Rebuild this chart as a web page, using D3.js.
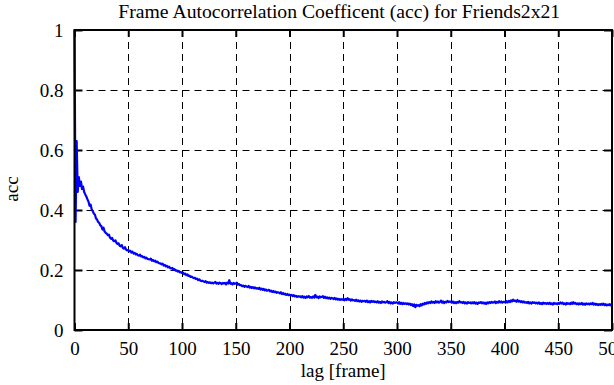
<!DOCTYPE html>
<meta charset="utf-8">
<title>acc</title>
<body>
<script src="https://cdn.jsdelivr.net/npm/d3@7"></script>
<style>
html, body {
    margin: 0;
    background: #fff;
}
svg {
    display: block;
}
svg text {
    font-family: "Liberation Serif", "Times New Roman", "DejaVu Serif", serif;
    font-size: 19px;
    fill: #000;
}
</style>
<script>
var width = 614,
    height = 385;

var margin = {top: 30, right: 2, bottom: 55, left: 74.5};

var xDomain = [0, 500],
    yDomain = [0, 1];

var xTicks = [0, 50, 100, 150, 200, 250, 300, 350, 400, 450, 500],
    yTicks = [0, 0.2, 0.4, 0.6, 0.8, 1];

// acc at lag 0..500, one value per frame
var acc = [
    1.0, 0.36, 0.63, 0.46, 0.51, 0.48, 0.495, 0.47, 0.478, 0.46,
    0.452, 0.445, 0.436, 0.428, 0.414, 0.418, 0.402, 0.396, 0.388, 0.384,
    0.372, 0.368, 0.36, 0.357, 0.349, 0.346, 0.335, 0.341, 0.328, 0.324,
    0.321, 0.316, 0.318, 0.308, 0.304, 0.307, 0.298, 0.296, 0.299, 0.291,
    0.287, 0.289, 0.281, 0.279, 0.283, 0.274, 0.271, 0.276, 0.268, 0.265,
    0.267, 0.262, 0.264, 0.258, 0.261, 0.255, 0.257, 0.252, 0.254, 0.249,
    0.248, 0.251, 0.245, 0.246, 0.242, 0.244, 0.239, 0.241, 0.237, 0.236,
    0.235, 0.238, 0.231, 0.233, 0.229, 0.231, 0.226, 0.228, 0.224, 0.222,
    0.222, 0.219, 0.221, 0.215, 0.217, 0.212, 0.214, 0.209, 0.211, 0.206,
    0.205, 0.207, 0.201, 0.203, 0.198, 0.199, 0.195, 0.197, 0.192, 0.193,
    0.19, 0.191, 0.186, 0.188, 0.183, 0.185, 0.18, 0.181, 0.177, 0.178,
    0.175, 0.173, 0.174, 0.17, 0.171, 0.166, 0.169, 0.165, 0.163, 0.164,
    0.162, 0.16, 0.163, 0.158, 0.16, 0.157, 0.159, 0.156, 0.158, 0.155,
    0.158, 0.16, 0.155, 0.157, 0.154, 0.158, 0.156, 0.153, 0.157, 0.155,
    0.157, 0.152, 0.158, 0.155, 0.166, 0.154, 0.156, 0.152, 0.157, 0.154,
    0.155, 0.158, 0.151, 0.153, 0.149, 0.15, 0.146, 0.148, 0.144, 0.147,
    0.145, 0.143, 0.147, 0.141, 0.144, 0.14, 0.143, 0.139, 0.142, 0.138,
    0.14, 0.137, 0.141, 0.135, 0.138, 0.134, 0.137, 0.132, 0.135, 0.131,
    0.132, 0.134, 0.129, 0.131, 0.127, 0.13, 0.126, 0.128, 0.124, 0.126,
    0.125, 0.122, 0.126, 0.12, 0.123, 0.119, 0.121, 0.117, 0.12, 0.116,
    0.118, 0.115, 0.117, 0.113, 0.116, 0.112, 0.114, 0.11, 0.113, 0.111,
    0.112, 0.109, 0.113, 0.108, 0.111, 0.107, 0.112, 0.109, 0.113, 0.108,
    0.11, 0.107, 0.112, 0.108, 0.117, 0.109, 0.111, 0.106, 0.112, 0.109,
    0.11, 0.113, 0.107, 0.111, 0.106, 0.109, 0.105, 0.108, 0.104, 0.107,
    0.106, 0.103, 0.107, 0.102, 0.105, 0.101, 0.104, 0.1, 0.103, 0.101,
    0.103, 0.099, 0.104, 0.1, 0.106, 0.101, 0.103, 0.098, 0.102, 0.099,
    0.1, 0.097, 0.101, 0.096, 0.099, 0.095, 0.098, 0.094, 0.097, 0.096,
    0.097, 0.094, 0.098, 0.093, 0.096, 0.092, 0.097, 0.094, 0.096, 0.093,
    0.095, 0.092, 0.096, 0.091, 0.094, 0.09, 0.095, 0.092, 0.094, 0.091,
    0.093, 0.096, 0.09, 0.094, 0.089, 0.092, 0.088, 0.093, 0.09, 0.092,
    0.092, 0.088, 0.093, 0.087, 0.091, 0.086, 0.09, 0.087, 0.089, 0.086,
    0.089, 0.085, 0.088, 0.083, 0.086, 0.08, 0.085, 0.076, 0.084, 0.081,
    0.083, 0.079, 0.086, 0.082, 0.088, 0.085, 0.09, 0.087, 0.092, 0.089,
    0.093, 0.09, 0.095, 0.091, 0.094, 0.09, 0.096, 0.092, 0.095, 0.091,
    0.094, 0.098, 0.091, 0.095, 0.09, 0.094, 0.092, 0.097, 0.093, 0.095,
    0.094, 0.091, 0.095, 0.09, 0.093, 0.089, 0.094, 0.091, 0.096, 0.092,
    0.093, 0.09, 0.094, 0.089, 0.092, 0.088, 0.093, 0.09, 0.092, 0.089,
    0.092, 0.089, 0.093, 0.088, 0.091, 0.087, 0.092, 0.09, 0.093, 0.089,
    0.092, 0.088, 0.091, 0.087, 0.092, 0.089, 0.093, 0.09, 0.094, 0.091,
    0.092, 0.095, 0.09, 0.094, 0.091, 0.096, 0.092, 0.095, 0.091, 0.094,
    0.094, 0.091, 0.096, 0.092, 0.097, 0.093, 0.099, 0.095, 0.101, 0.097,
    0.098, 0.094, 0.1, 0.095, 0.097, 0.093, 0.096, 0.092, 0.095, 0.091,
    0.093, 0.09, 0.094, 0.089, 0.092, 0.088, 0.093, 0.09, 0.092, 0.089,
    0.091, 0.088, 0.092, 0.087, 0.09, 0.086, 0.091, 0.088, 0.09, 0.087,
    0.09, 0.087, 0.091, 0.086, 0.089, 0.085, 0.09, 0.087, 0.089, 0.086,
    0.09, 0.087, 0.092, 0.088, 0.091, 0.086, 0.089, 0.085, 0.09, 0.087,
    0.089, 0.086, 0.091, 0.087, 0.093, 0.088, 0.09, 0.086, 0.089, 0.085,
    0.089, 0.086, 0.09, 0.085, 0.088, 0.084, 0.089, 0.086, 0.088, 0.085,
    0.089, 0.086, 0.09, 0.085, 0.088, 0.084, 0.087, 0.083, 0.086, 0.084,
    0.087, 0.084, 0.088, 0.083, 0.086, 0.082, 0.085, 0.083, 0.086, 0.082,
    0.084
];

var x = d3.scaleLinear()
    .domain(xDomain)
    .range([margin.left, width - margin.right]);

var y = d3.scaleLinear()
    .domain(yDomain)
    .range([height - margin.bottom, margin.top]);

var svg = d3.select("body").append("svg")
    .attr("width", width)
    .attr("height", height)
    .style("background", "#fff");

// dashed grid
svg.append("g")
    .selectAll("line")
    .data(xTicks.slice(1, -1))
    .enter().append("line")
    .attr("x1", function(d) { return Math.round(x(d)) + 0.5; })
    .attr("x2", function(d) { return Math.round(x(d)) + 0.5; })
    .attr("y1", y(1))
    .attr("y2", y(0))
    .attr("stroke", "#000")
    .attr("stroke-dasharray", "7,5");

svg.append("g")
    .selectAll("line")
    .data(yTicks.slice(1, -1))
    .enter().append("line")
    .attr("x1", x(0))
    .attr("x2", x(500))
    .attr("y1", function(d) { return Math.round(y(d)) + 0.5; })
    .attr("y2", function(d) { return Math.round(y(d)) + 0.5; })
    .attr("stroke", "#000")
    .attr("stroke-dasharray", "7,5");

// axes, ticks pointing inwards, mirrored on top and right
function style(g) {
    g.attr("font-family", null).attr("font-size", null);
    g.select(".domain").remove();
    g.selectAll(".tick line").attr("stroke-width", 2);
}

svg.append("g")
    .attr("transform", "translate(0," + y(0) + ")")
    .call(d3.axisBottom(x).tickValues(xTicks).tickSize(-7).tickPadding(12).tickFormat(d3.format("d")))
    .call(style);

svg.append("g")
    .attr("transform", "translate(0," + y(1) + ")")
    .call(d3.axisTop(x).tickValues(xTicks).tickSize(-7).tickFormat(""))
    .call(style);

svg.append("g")
    .attr("transform", "translate(" + x(0) + ",0)")
    .call(d3.axisLeft(y).tickValues(yTicks).tickSize(-8).tickPadding(11).tickFormat(d3.format("")))
    .call(style);

svg.append("g")
    .attr("transform", "translate(" + x(500) + ",0)")
    .call(d3.axisRight(y).tickValues(yTicks).tickSize(-8).tickFormat(""))
    .call(style);

// the curve
var line = d3.line()
    .x(function(d, i) { return x(i); })
    .y(function(d) { return y(d); });

svg.append("path")
    .datum(acc)
    .attr("fill", "none")
    .attr("stroke", "#0000ff")
    .attr("stroke-width", 2.2)
    .attr("stroke-linejoin", "round")
    .attr("d", line);

// border
svg.append("rect")
    .attr("x", x(0))
    .attr("y", y(1))
    .attr("width", x(500) - x(0))
    .attr("height", y(0) - y(1))
    .attr("fill", "none")
    .attr("stroke", "#000")
    .attr("stroke-width", 2);

svg.append("text")
    .attr("x", (x(0) + x(500)) / 2 - 4)
    .attr("y", 18)
    .attr("text-anchor", "middle")
    .style("font-size", "19.7px")
    .text("Frame Autocorrelation Coefficent (acc) for Friends2x21");

svg.append("text")
    .attr("x", (x(0) + x(500)) / 2)
    .attr("y", 377)
    .attr("text-anchor", "middle")
    .text("lag [frame]");

svg.append("text")
    .attr("transform", "translate(18,189)rotate(-90)")
    .attr("text-anchor", "middle")
    .text("acc");
</script>
